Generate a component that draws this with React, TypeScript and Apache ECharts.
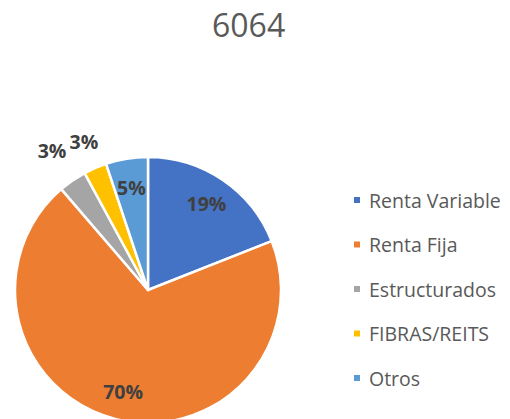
import React, { useEffect, useRef } from "react";
import * as echarts from "echarts";

const titleText = "6064";
const categories = ["Renta Variable", "Renta Fija", "Estructurados", "FIBRAS/REITS", "Otros"];
const values = [19.0, 69.7, 3.4, 2.8, 5.1];
const colors = ["#4472C4", "#ED7D31", "#A5A5A5", "#FFC000", "#5B9BD5"];
const innerLabelIdx = [0, 1, 4];

const FONT = "'Open Sans', 'Noto Sans', sans-serif";
const R = 133;
const CX = 148;
const CY = 290;

export default function App() {
  const ref = useRef<HTMLDivElement>(null);
  useEffect(() => {
    if (!ref.current) return;
    const chart = echarts.init(ref.current, undefined, { renderer: "svg" });
    const labelFmt = (p: any) => Math.round(p.percent) + "%";
    const mkData = (showIdx: number[] | null, transparent: boolean) =>
      categories.map((name, i) => ({
        name,
        value: values[i],
        itemStyle: { color: transparent ? "rgba(0,0,0,0)" : colors[i] },
        label: { show: showIdx ? showIdx.includes(i) : false },
      }));
    const labelStyle = {
      show: true,
      position: "inside",
      formatter: labelFmt,
      color: "#404040",
      fontFamily: FONT,
      fontSize: 19.5,
      fontWeight: "bold",
    };
    const labelSeries = (radiusFactor: number, idx: number[]) => ({
      type: "pie",
      center: [CX, CY],
      radius: [0, R * radiusFactor],
      startAngle: 90,
      clockwise: true,
      silent: true,
      avoidLabelOverlap: false,
      labelLayout: { hideOverlap: false },
      itemStyle: { color: "rgba(0,0,0,0)", borderWidth: 0 },
      label: labelStyle,
      labelLine: { show: false },
      emphasis: { disabled: true },
      data: mkData(idx, true),
    });
    chart.setOption({
      animation: false,
      backgroundColor: "#ffffff",
      title: {
        text: titleText,
        left: 207,
        top: 3,
        textStyle: { fontFamily: FONT, fontSize: 32, fontWeight: "normal", color: "#595959" },
      },
      legend: {
        orient: "vertical",
        left: 347,
        top: 185,
        itemWidth: 8,
        itemHeight: 8,
        itemGap: 24.5,
        icon: "rect",
        data: categories,
        selectedMode: false,
        textStyle: {
          fontFamily: FONT,
          fontSize: 19.5,
          color: "#595959",
          lineHeight: 20,
          padding: [0, 0, 0, 3],
        },
      },
      series: [
        {
          type: "pie",
          center: [CX, CY],
          radius: [0, R],
          startAngle: 90,
          clockwise: true,
          silent: true,
          itemStyle: { borderColor: "#ffffff", borderWidth: 2.5 },
          label: { show: false },
          labelLine: { show: false },
          data: mkData(null, false),
        },
        labelSeries(1.52, innerLabelIdx),
        labelSeries(2.5, [2]),
        labelSeries(2.38, [3]),
      ],
    });
    return () => chart.dispose();
  }, []);
  return (
    <div
      ref={ref}
      style={{ position: "fixed", left: 0, top: 0, width: 510, height: 419, background: "#fff" }}
    />
  );
}
